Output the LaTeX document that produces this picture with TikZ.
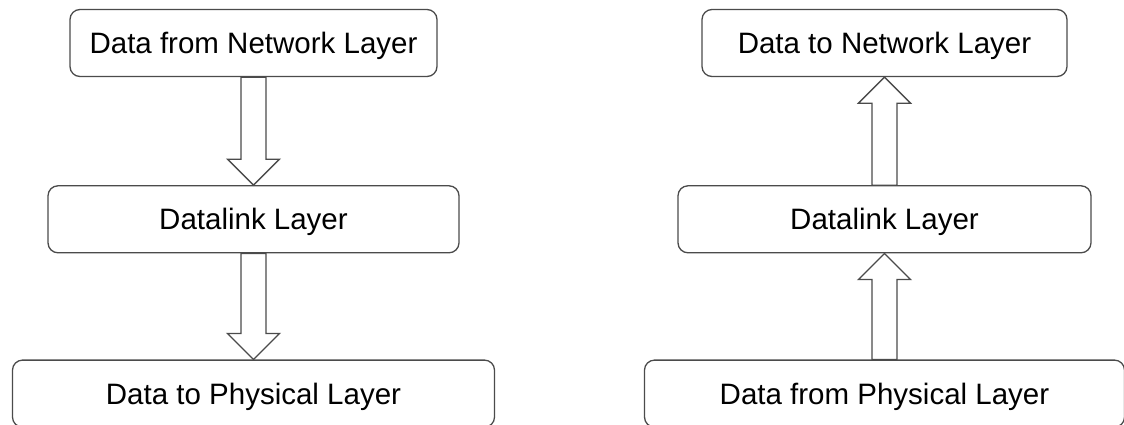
\documentclass[tikz,border=0pt]{standalone}
\usepackage{fontspec}
\setmainfont{Liberation Sans}
\usetikzlibrary{positioning}
\definecolor{linegray}{RGB}{75,75,75}

\begin{document}
\begin{tikzpicture}[x=1pt,y=-1pt,
layer/.style={draw=linegray,line width=1.3pt,rounded corners=10pt,minimum height=67pt,inner sep=0pt,
    text height=21pt,text depth=0pt,font=\fontsize{29.5}{34}\selectfont},
blockarrow/.style={draw=linegray,line width=1.3pt,fill=white,line join=miter}]
\useasboundingbox (0,0) rectangle (1124,424);
% sending side
\node (netout) [layer,minimum width=367pt] at (253.5,43) {Data from Network Layer};
\node (dlout) [layer,minimum width=411pt,below=108pt of netout] {Datalink Layer};
\node (physout) [layer,minimum width=482pt,below=106pt of dlout] {Data to Physical Layer};
% receiving side
\node (netin) [layer,minimum width=365pt] at (884.5,43) {Data to Network Layer};
\node (dlin) [layer,minimum width=413pt,below=108pt of netin] {Datalink Layer};
\node (physin) [layer,minimum width=480pt,below=106pt of dlin] {Data from Physical Layer};
% down arrows
\draw[blockarrow] ([xshift=-12.5pt]netout.south) -- ([xshift=-12.5pt,yshift=26pt]dlout.north)
    -- ([xshift=-26pt,yshift=26pt]dlout.north) -- (dlout.north)
    -- ([xshift=26pt,yshift=26pt]dlout.north) -- ([xshift=12.5pt,yshift=26pt]dlout.north)
    -- ([xshift=12.5pt]netout.south) -- cycle;
\draw[blockarrow] ([xshift=-12.5pt]dlout.south) -- ([xshift=-12.5pt,yshift=26pt]physout.north)
    -- ([xshift=-26pt,yshift=26pt]physout.north) -- (physout.north)
    -- ([xshift=26pt,yshift=26pt]physout.north) -- ([xshift=12.5pt,yshift=26pt]physout.north)
    -- ([xshift=12.5pt]dlout.south) -- cycle;
% up arrows
\draw[blockarrow] ([xshift=-12.5pt]dlin.north) -- ([xshift=-12.5pt,yshift=-26pt]netin.south)
    -- ([xshift=-26pt,yshift=-26pt]netin.south) -- (netin.south)
    -- ([xshift=26pt,yshift=-26pt]netin.south) -- ([xshift=12.5pt,yshift=-26pt]netin.south)
    -- ([xshift=12.5pt]dlin.north) -- cycle;
\draw[blockarrow] ([xshift=-12.5pt]physin.north) -- ([xshift=-12.5pt,yshift=-26pt]dlin.south)
    -- ([xshift=-26pt,yshift=-26pt]dlin.south) -- (dlin.south)
    -- ([xshift=26pt,yshift=-26pt]dlin.south) -- ([xshift=12.5pt,yshift=-26pt]dlin.south)
    -- ([xshift=12.5pt]physin.north) -- cycle;
\end{tikzpicture}
\end{document}
